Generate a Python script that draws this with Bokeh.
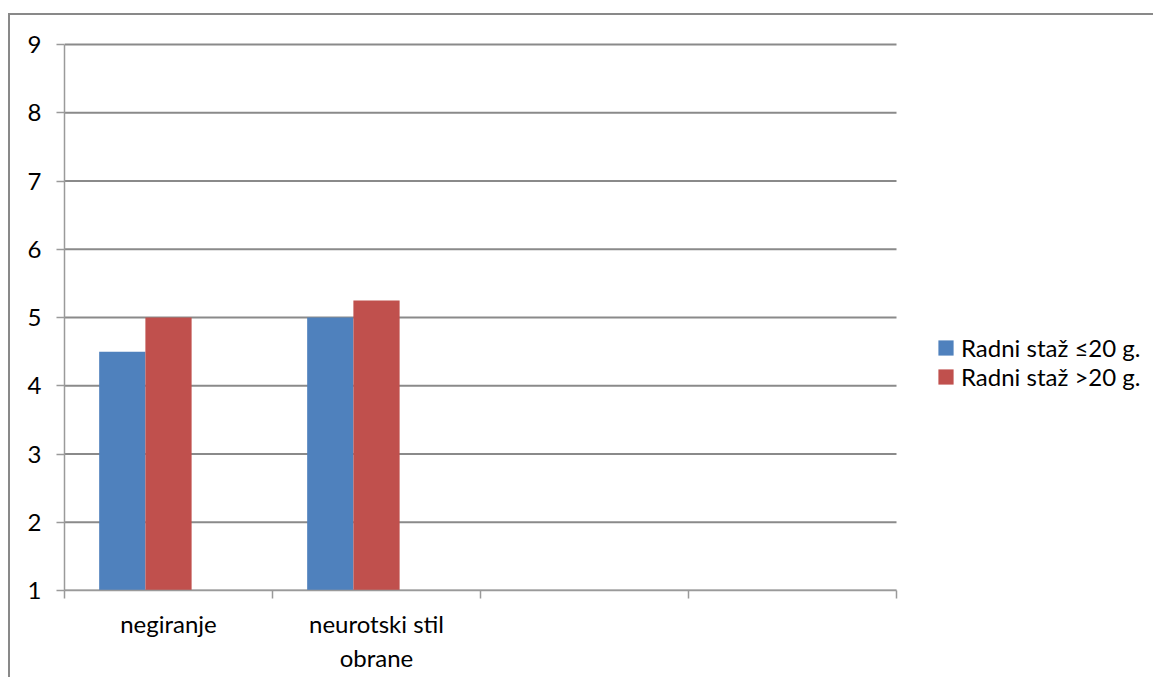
from bokeh.plotting import figure
from bokeh.models import FixedTicker, Legend, LegendItem, ColumnDataSource, Range1d
from bokeh.embed import file_html
from bokeh.resources import INLINE

# ---- data ----
categories = ["negiranje", "neurotski stil\nobrane", "", ""]
series_names = ["Radni staž ≤20 g.", "Radni staž >20 g."]
series_le20 = [4.5, 5.0, None, None]
series_gt20 = [5.0, 5.25, None, None]
y_ticks = [1, 2, 3, 4, 5, 6, 7, 8, 9]
colors = ["#4F81BD", "#C0504D"]

# Excel clustered layout: 3 series slots (third empty), gap width 150%
n_slots = 3
gap = 1.5
bar_w = 1.0 / (n_slots + gap)
offsets = [(-(n_slots - 1) / 2 + k) * bar_w for k in range(n_slots)]

FONT = "Lato"
FS = "24px"
GRID = "#8a8a8a"
AXIS = "#9a9a9a"

# layout (pixels)
W, H = 1145, 664
border_left, border_top, border_bottom = 54, 27, 89
frame_w = W - border_left
cat_area_w = 832  # width occupied by the category axis
x_end = len(categories) * frame_w / cat_area_w

p = figure(width=W, height=H,
           x_range=Range1d(0, x_end),
           y_range=Range1d(y_ticks[0], y_ticks[-1] + 0.03),
           output_backend="svg", toolbar_location=None,
           min_border_left=border_left, min_border_top=border_top,
           min_border_right=0, min_border_bottom=border_bottom)
p.styles = {"border-left": "2px solid #898989", "border-top": "2px solid #898989",
            "margin-top": "13px", "margin-left": "8px"}
p.outline_line_color = None
p.background_fill_color = "white"
p.border_fill_color = "white"
p.xgrid.visible = False
p.ygrid.visible = False

# horizontal gridlines limited to the category area
p.segment(x0=0, x1=len(categories), y0=y_ticks, y1=y_ticks,
          line_color=GRID, line_width=2)

renderers = []
for k, (vals, col) in enumerate(zip([series_le20, series_gt20], colors)):
    xs, tops = [], []
    for i, v in enumerate(vals):
        if v is not None:
            xs.append(i + 0.5 + offsets[k])
            tops.append(v)
    src = ColumnDataSource(dict(x=xs, top=tops))
    r = p.vbar(x="x", top="top", bottom=y_ticks[0], width=bar_w, source=src,
               fill_color=col, line_color=None)
    renderers.append(r)

# x axis: labels at category centers, tick marks between categories
xa = p.xaxis[0]
xa.bounds = (0, len(categories))
xa.ticker = FixedTicker(ticks=[i + 0.5 for i in range(len(categories))],
                        minor_ticks=list(range(len(categories) + 1)))
xa.major_label_overrides = {i + 0.5: c for i, c in enumerate(categories)}
xa.major_tick_line_color = None
xa.major_tick_out = 8
xa.major_tick_in = 0
xa.minor_tick_line_color = AXIS
xa.minor_tick_line_width = 1.5
xa.minor_tick_out = 8
xa.minor_tick_in = 0
xa.axis_line_color = AXIS
xa.axis_line_width = 1.5
xa.major_label_text_font = FONT
xa.major_label_text_font_size = FS
xa.major_label_text_color = "black"
xa.major_label_text_line_height = 1.2
xa.major_label_standoff = 10

ya = p.yaxis[0]
ya.bounds = (y_ticks[0], y_ticks[-1])
ya.ticker = FixedTicker(ticks=y_ticks, minor_ticks=[])
ya.major_tick_out = 8
ya.major_tick_in = 0
ya.major_tick_line_color = AXIS
ya.major_tick_line_width = 1.5
ya.axis_line_color = AXIS
ya.axis_line_width = 1.5
ya.major_label_text_font = FONT
ya.major_label_text_font_size = FS
ya.major_label_text_color = "black"
ya.major_label_standoff = 15

legend = Legend(items=[LegendItem(label=series_names[i], renderers=[renderers[i]]) for i in range(2)],
                location=(872, 199), orientation="vertical",
                padding=0, margin=0, spacing=-6,
                glyph_width=19, glyph_height=19, label_height=24, label_standoff=6,
                border_line_color=None, background_fill_alpha=0,
                label_text_font=FONT, label_text_font_size=FS, label_text_color="black")
p.add_layout(legend, "center")

open("out.html", "w").write(file_html(p, INLINE))
